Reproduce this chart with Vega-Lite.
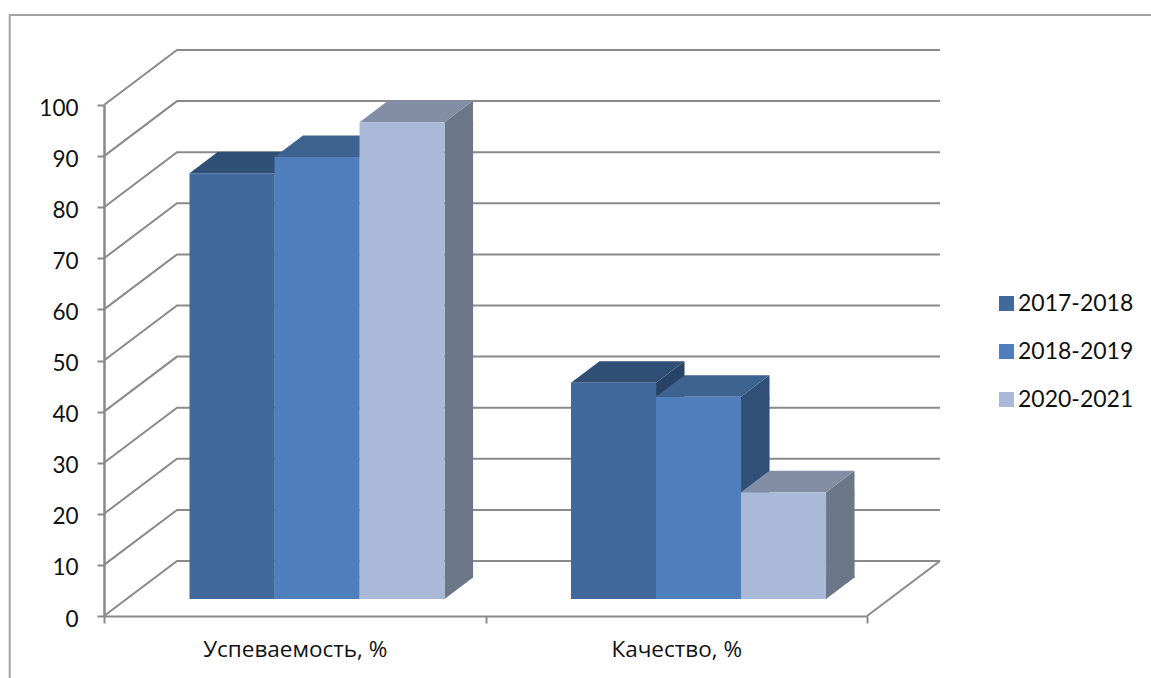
{
"$schema":"https://vega.github.io/schema/vega-lite/v6.json",
"width":763,"height":511,
"autosize":{"type":"none"},
"padding":{"left":104,"top":105,"right":284,"bottom":62},
"background":"white",
"config":{"view":{"stroke":null},"font":"Lato",
"axis":{"grid":false,"title":null,"domainColor":"#8a8a8a","domainWidth":2,"tickColor":"#8a8a8a","tickWidth":2,"labelColor":"#111111","labelFont":"Lato","labelFontSize":22.5}},
"datasets":{
"bars":[
{"cat":"Успеваемость, %","year":"2017-2018","value":83.3},
{"cat":"Успеваемость, %","year":"2018-2019","value":86.5},
{"cat":"Успеваемость, %","year":"2020-2021","value":93.3},
{"cat":"Качество, %","year":"2017-2018","value":42.3},
{"cat":"Качество, %","year":"2018-2019","value":39.6},
{"cat":"Качество, %","year":"2020-2021","value":20.9}],
"ticks":[{"t":0},{"t":10},{"t":20},{"t":30},{"t":40},{"t":50},{"t":60},{"t":70},{"t":80},{"t":90},{"t":100}]
},
"resolve":{"scale":{"color":"independent","xOffset":"independent"}},
"layer":[
{"data":{"name":"ticks"},"mark":{"type":"point","shape":"M-190.75,0L-117.75,-55L645.25,-55","size":4,"filled":false,"opacity":1,"stroke":"#8a8a8a","strokeWidth":2},
 "encoding":{"x":{"datum":"Успеваемость, %","type":"nominal","sort":null,"scale":{"domain":["Успеваемость, %","Качество, %"],"paddingInner":0,"paddingOuter":0},"axis":{"labelAngle":0,"tickBand":"extent","tickSize":7,"labelPadding":15,"labelLimit":400,"labelFont":"Open Sans","labelFontSize":22.5}},
 "y":{"field":"t","type":"quantitative","scale":{"domain":[0,100],"nice":false},"axis":{"values":[0,10,20,30,40,50,60,70,80,90,100],"tickSize":7,"labelPadding":19,"labelOffset":3,"labelFontSize":22.5,"domainWidth":2.5}}}},
{"data":{"values":[{"t":0}]},"mark":{"type":"point","shape":"M190.75,0L263.75,-55","size":4,"filled":false,"opacity":1,"stroke":"#8a8a8a","strokeWidth":2},
 "encoding":{"x":{"datum":"Качество, %","type":"nominal"},"y":{"field":"t","type":"quantitative"}}},
{"data":{"values":[{"t":100}]},"mark":{"type":"point","shape":"M857,-90L-285,-90L-285,573","size":4,"filled":false,"opacity":1,"stroke":"#a3a3a3","strokeWidth":2},
 "encoding":{"x":{"datum":"Успеваемость, %","type":"nominal"},"y":{"field":"t","type":"quantitative"}}},
{"data":{"name":"bars"},"mark":{"type":"bar","size":28.5,"yOffset":-17,"y2Offset":-38.5},
 "encoding":{"x":{"field":"cat","type":"nominal","sort":null},"xOffset":{"field":"year","type":"nominal","scale":{"paddingInner":0.512,"paddingOuter":1,"align":0.965}},
 "y":{"field":"value","type":"quantitative","stack":null},"y2":{"datum":0},
 "color":{"field":"year","type":"nominal","legend":null,"scale":{"range":["#284365","#305078","#6b7688"]}}}},
{"data":{"name":"bars"},"mark":{"type":"point","shape":"M42.5,-17L71,-38.5L71,-15.5L42.5,-15.5Z","size":4,"filled":true,"opacity":1},
 "encoding":{"x":{"field":"cat","type":"nominal","sort":null},"xOffset":{"field":"year","type":"nominal","scale":{"type":"band","paddingInner":0,"paddingOuter":0.744,"align":0.676}},
 "y":{"field":"value","type":"quantitative"},
 "color":{"field":"year","type":"nominal","legend":null,"scale":{"range":["#284365","#305078","#6b7688"]}}}},
{"data":{"name":"bars"},"mark":{"type":"point","shape":"M42.5,-17L42.5,-40L71,-40L71,-38.5Z","size":4,"filled":true,"opacity":1},
 "encoding":{"x":{"field":"cat","type":"nominal","sort":null},"xOffset":{"field":"year","type":"nominal","scale":{"type":"band","paddingInner":0,"paddingOuter":0.744,"align":0.676}},
 "y":{"datum":0},
 "color":{"field":"year","type":"nominal","legend":null,"scale":{"range":["#284365","#305078","#6b7688"]}}}},
{"data":{"name":"bars"},"mark":{"type":"point","shape":"M-42.5,-17L-14,-38.5L71,-38.5L42.5,-17Z","size":4,"filled":true,"opacity":1},
 "encoding":{"x":{"field":"cat","type":"nominal","sort":null},"xOffset":{"field":"year","type":"nominal","scale":{"type":"band","paddingInner":0,"paddingOuter":0.744,"align":0.676}},
 "y":{"field":"value","type":"quantitative"},
 "color":{"field":"year","type":"nominal","legend":null,"scale":{"range":["#304f75","#3d6391","#828ea5"]}}}},
{"data":{"name":"bars"},"mark":{"type":"bar","yOffset":-17,"y2Offset":-17},
 "encoding":{"x":{"field":"cat","type":"nominal","sort":null},"xOffset":{"field":"year","type":"nominal","scale":{"paddingInner":0,"paddingOuter":0.744,"align":0.676}},
 "y":{"field":"value","type":"quantitative","stack":null},"y2":{"datum":0},
 "color":{"field":"year","type":"nominal","scale":{"range":["#41699b","#4f80bd","#aab9d7"]},
 "legend":{"title":null,"orient":"none","legendX":891,"legendY":187,"symbolType":"square","symbolSize":225,"symbolStrokeWidth":0,"labelFont":"Lato","labelFontSize":23,"labelColor":"#111111","labelOffset":0,"rowPadding":24}}}}
]}
